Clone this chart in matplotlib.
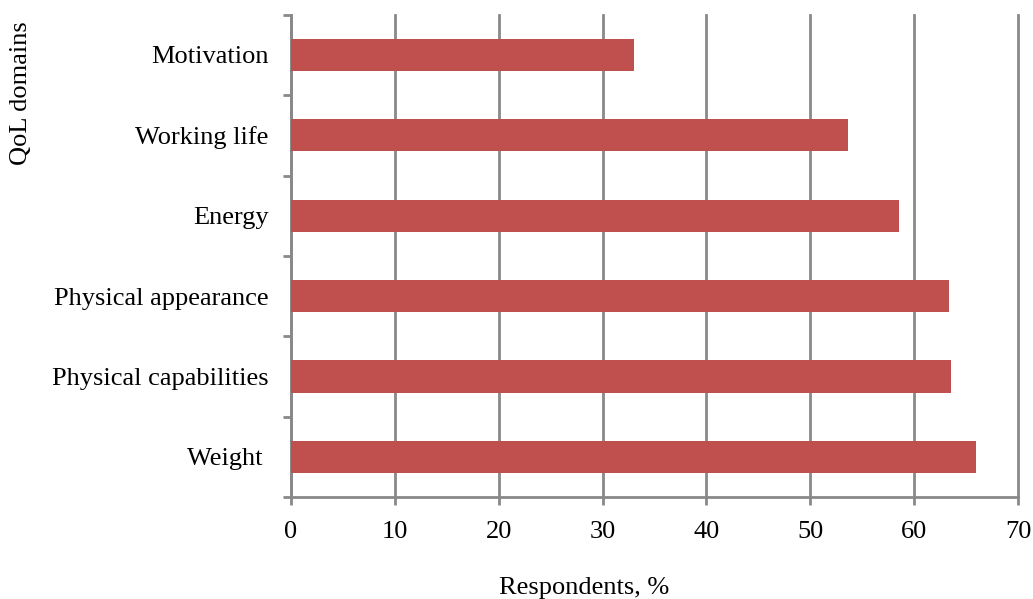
import matplotlib
matplotlib.use("Agg")
import matplotlib.pyplot as plt

domains = ['Weight ', 'Physical capabilities', 'Physical appearance',
           'Energy', 'Working life', 'Motivation']
respondents = [66.0, 63.5, 63.4, 58.5, 53.6, 33.0]
xticks = [0, 10, 20, 30, 40, 50, 60, 70]

plt.rcParams['font.family'] = ['Liberation Serif', 'DejaVu Serif']
grey = '#898989'
fs = 19

fig = plt.figure(figsize=(10.33, 5.99), dpi=100)
ax = fig.add_axes([0.2817, 0.1703, 0.7038, 0.805])

pos = range(len(domains))
ax.barh(pos, respondents, height=0.4, color='#C0504D', zorder=3)

ax.set_xlim(0, 70)
ax.set_ylim(-0.5, len(domains) - 0.5)
ax.set_xticks(xticks)
ax.xaxis.grid(True, color=grey, linewidth=2, zorder=0)
for gl in ax.get_xgridlines():
    gl.set_clip_on(False)

ax.set_yticks([p - 0.5 for p in pos] + [len(domains) - 0.5])
ax.set_yticklabels([])
ax.set_yticks(list(pos), minor=True)
ax.set_yticklabels(domains, minor=True, fontsize=fs)
ax.tick_params(axis='y', which='major', length=6, width=2, color=grey)
ax.tick_params(axis='y', which='minor', length=0, pad=16)
ax.tick_params(axis='x', length=6, width=2, color=grey, labelsize=fs, pad=11)

for s in ['top', 'right']:
    ax.spines[s].set_visible(False)
for s in ['left', 'bottom']:
    ax.spines[s].set_color(grey)
    ax.spines[s].set_linewidth(2)

fig.text(0.565, 0.0, 'Respondents, %', ha='center', va='bottom', fontsize=fs)
fig.text(0.02, 0.845, 'QoL domains', rotation=90, ha='center', va='center', fontsize=fs)

fig.savefig('out.png', dpi=100)
